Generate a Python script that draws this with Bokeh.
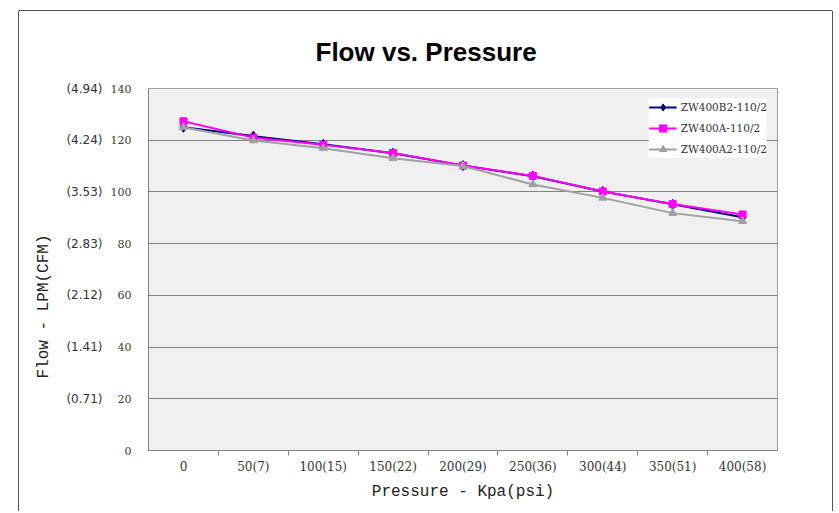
from bokeh.plotting import figure
from bokeh.models import (Range1d, LinearAxis, FixedTicker, Legend, LegendItem, Title)
from bokeh.embed import file_html
from bokeh.resources import INLINE

categories = ["0", "50(7)", "100(15)", "150(22)", "200(29)", "250(36)",
              "300(44)", "350(51)", "400(58)"]
flow_b2 = [125.0, 121.6, 118.4, 115.0, 110.2, 106.1, 100.2, 95.2, 90.2]
flow_a = [127.3, 121.0, 118.2, 115.1, 110.2, 106.2, 100.2, 95.3, 91.3]
flow_a2 = [125.0, 119.9, 116.9, 113.0, 110.0, 102.9, 97.7, 91.8, 88.7]
y_ticks = [0, 20, 40, 60, 80, 100, 120, 140]
cfm_labels = ["", "(0.71)", "(1.41)", "(2.12)", "(2.83)", "(3.53)", "(4.24)", "(4.94)"]
series_names = ["ZW400B2-110/2", "ZW400A-110/2", "ZW400A2-110/2"]

n = len(categories)
x_pos = [i + 0.5 for i in range(n)]      # category centres
edges = list(range(1, n))                # category boundaries

p = figure(width=813, height=500, x_range=Range1d(0, n),
           y_range=Range1d(0, 140), x_axis_location=None, y_axis_location=None,
           output_backend="svg", toolbar_location=None,
           min_border_left=129, min_border_right=55, min_border_top=77,
           min_border_bottom=61)
p.margin = (11, 0, 0, 19)
p.styles = {"box-shadow": "-1px 0 0 #555, 1px 0 0 #555, 0 -1px 0 #555"}
p.background_fill_color = "#F0F0F0"
p.border_fill_color = "white"
p.outline_line_color = "#A0A0A0"

p.title.text = "Flow vs. Pressure"
p.title.text_font = "Liberation Sans"
p.title.text_font_size = "26px"
p.title.text_font_style = "bold"
p.title.text_color = "black"
p.title.align = "left"
p.title.vertical_align = "top"
p.title.offset = 167
p.title.standoff = 39

p.xgrid.visible = False
p.ygrid.ticker = FixedTicker(ticks=y_ticks)
p.ygrid.grid_line_color = "#808080"

# y axes
ax1 = LinearAxis(ticker=FixedTicker(ticks=y_ticks), major_tick_out=0, major_tick_in=0,
                 minor_tick_line_color=None, axis_line_color="#808080",
                 major_label_standoff=17, major_label_text_font="DejaVu Serif",
                 major_label_text_font_size="11px", major_label_text_color="#404040")
ax2 = LinearAxis(ticker=FixedTicker(ticks=y_ticks),
                 major_label_overrides=dict(zip(y_ticks, cfm_labels)),
                 axis_line_color=None, major_tick_line_color=None,
                 minor_tick_line_color=None, major_tick_out=0, major_tick_in=0,
                 major_label_standoff=5, major_label_text_font="DejaVu Sans",
                 major_label_text_font_size="12px", major_label_text_color="#333333")
p.add_layout(ax1, "left")
p.add_layout(ax2, "left")

y_title = Title(text="Flow - LPM(CFM)", align="left", offset=72, standoff=22,
                text_font="Liberation Mono", text_font_size="16px",
                text_font_style="normal", text_color="#222222")
p.add_layout(y_title, "left")

# x axes: ticks at the category boundaries, then category labels
tick_axis = LinearAxis(ticker=FixedTicker(ticks=edges),
                       major_tick_in=0, major_tick_out=5, minor_tick_line_color=None,
                       axis_line_color="#808080", major_tick_line_color="#808080",
                       major_label_text_font_size="0px", major_label_standoff=0,
                       major_label_overrides={e: "" for e in edges})
cat_axis = LinearAxis(ticker=FixedTicker(ticks=x_pos),
                      major_label_overrides=dict(zip(x_pos, categories)),
                      axis_line_color=None, major_tick_line_color=None,
                      minor_tick_line_color=None,
                      major_tick_in=0, major_tick_out=0, major_label_standoff=4,
                      major_label_text_font="DejaVu Serif",
                      major_label_text_font_size="12px",
                      major_label_text_color="#333333",
                      axis_label="Pressure - Kpa(psi)",
                      axis_label_text_font="Liberation Mono",
                      axis_label_text_font_size="16px",
                      axis_label_text_font_style="normal",
                      axis_label_text_color="#222222", axis_label_standoff=6)
p.add_layout(tick_axis, "below")
p.add_layout(cat_axis, "below")

l1 = p.line(x_pos, flow_b2, line_color="#000080", line_width=2)
s1 = p.scatter(x_pos, flow_b2, marker="diamond", size=10, color="#000080")
l2 = p.line(x_pos, flow_a, line_color="#FF00FF", line_width=2)
s2 = p.scatter(x_pos, flow_a, marker="square", size=7, color="#FF00FF")
l3 = p.line(x_pos, flow_a2, line_color="#A0A0A0", line_width=2)
s3 = p.scatter(x_pos, flow_a2, marker="triangle", size=8, color="#A0A0A0")

legend = Legend(items=[LegendItem(label=series_names[0], renderers=[l1, s1]),
                       LegendItem(label=series_names[1], renderers=[l2, s2]),
                       LegendItem(label=series_names[2], renderers=[l3, s3])],
                location="top_right", margin=10, padding=2, spacing=3,
                glyph_width=28, glyph_height=18, label_height=18, label_standoff=4,
                label_text_font="DejaVu Serif", label_text_font_size="10.5px",
                label_text_color="#333333", background_fill_color="white",
                background_fill_alpha=1, border_line_color=None)
p.add_layout(legend)

open("out.html", "w").write(file_html(p, INLINE))
